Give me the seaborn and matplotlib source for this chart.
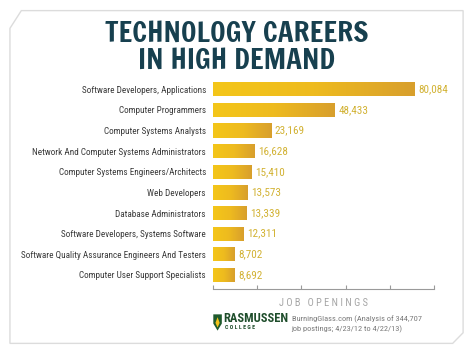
import numpy as np
import pandas as pd
import matplotlib.pyplot as plt
import seaborn as sns
from matplotlib.colors import LinearSegmentedColormap
from matplotlib.patches import Polygon

# ---- data ----
careers = [
    "Software Developers, Applications",
    "Computer Programmers",
    "Computer Systems Analysts",
    "Network And Computer Systems Administrators",
    "Computer Systems Engineers/Architects",
    "Web Developers",
    "Database Administrators",
    "Software Developers, Systems Software",
    "Software Quality Assurance Engineers And Testers",
    "Computer User Support Specialists",
]
openings = [80084, 48433, 23169, 16628, 15410, 13573, 13339, 12311, 8702, 8692]
title_lines = ["TECHNOLOGY CAREERS", "IN HIGH DEMAND"]
x_label = "J O B   O P E N I N G S"
source = "BurningGlass.com (Analysis of 344,707\njob postings; 4/23/12 to 4/22/13)"

df = pd.DataFrame({"career": careers, "openings": openings})

# ---- style ----
sns.set_theme(style="white")
narrow = ["Roboto Condensed", "Archivo Narrow", "DejaVu Sans"]
heavy = ["Francois One", "Oswald", "DejaVu Sans"]
plt.rcParams["font.family"] = narrow

fig = plt.figure(figsize=(4.74, 3.54), dpi=100)
fig.patch.set_facecolor("white")

# card outline with cut corners (behind the axes)
card = Polygon([(0.021, 0.92), (0.045, 0.97), (0.977, 0.97), (0.977, 0.06),
                (0.955, 0.03), (0.021, 0.03)], closed=True,
               transform=fig.transFigure, facecolor="white",
               edgecolor="#dcdcdc", lw=1.0, zorder=-5)
fig.patches.append(card)

ax = fig.add_axes([0.449, 0.1836, 0.467, 0.604])
ax.set_facecolor("none")

sns.barplot(data=df, x="openings", y="career", orient="h", color="#f0c01c",
            width=0.69, ax=ax, saturation=1)

# gradient fill on each bar
cmap = LinearSegmentedColormap.from_list("gold", ["#f4c619", "#eebb1f", "#d89f2d"])
grad = np.linspace(0, 1, 256).reshape(1, -1)
for p in list(ax.patches):
    x0, y0 = p.get_x(), p.get_y()
    w, h = p.get_width(), p.get_height()
    im = ax.imshow(grad, extent=[x0, x0 + w, y0 + h, y0], aspect="auto",
                   cmap=cmap, zorder=2)
    im.set_clip_path(p)

ax.set_xlim(0, 88000)
ax.set_ylim(9.68, -0.68)
ax.set_xticks(np.linspace(0, 88000, 6))
ax.set_xticklabels([])
ax.tick_params(axis="x", direction="in", length=3, width=0.8, color="#9a9a9a", bottom=True)
ax.tick_params(axis="y", length=0, pad=5, labelsize=6.6, labelcolor="#3a3a3a")
for lbl in ax.get_yticklabels():
    lbl.set_family(narrow)
for s in ["top", "right", "left"]:
    ax.spines[s].set_visible(False)
ax.spines["bottom"].set_color("#9a9a9a")
ax.spines["bottom"].set_linewidth(0.8)
ax.set_ylabel("")
ax.set_xlabel(x_label, fontsize=7.5, color="#a5a5a5", labelpad=3, family=narrow)

for i, v in enumerate(openings):
    ax.text(v + 1500, i, f"{v:,}", va="center", ha="left", fontsize=8,
            color="#d2b233", family=narrow)

# title
fig.text(0.5, 0.905, title_lines[0], ha="center", va="center", fontsize=20.5,
         color="#17404f", family=heavy)
fig.text(0.5, 0.828, title_lines[1], ha="center", va="center", fontsize=20.5,
         color="#17404f", family=heavy)

# logo shield
shield = Polygon([(0.450, 0.112), (0.468, 0.112), (0.468, 0.086), (0.459, 0.066),
                  (0.450, 0.086)], closed=True, transform=fig.transFigure,
                 facecolor="#1e5a2d", edgecolor="none")
fig.patches.append(shield)
flame = Polygon([(0.459, 0.104), (0.4635, 0.088), (0.459, 0.075), (0.4545, 0.088)],
                closed=True, transform=fig.transFigure, facecolor="#f2c21a",
                edgecolor="none")
fig.patches.append(flame)
fig.text(0.472, 0.100, "RASMUSSEN", ha="left", va="center", fontsize=9,
         fontweight="bold", color="#1e4d2b", family=narrow)
fig.text(0.474, 0.074, "C O L L E G E", ha="left", va="center", fontsize=4.2,
         fontweight="bold", color="#1e4d2b", family=narrow)
fig.text(0.615, 0.085, source, ha="left", va="center", fontsize=6,
         color="#7a7a7a", family=narrow, linespacing=1.4)

fig.savefig("out.png", dpi=100)
